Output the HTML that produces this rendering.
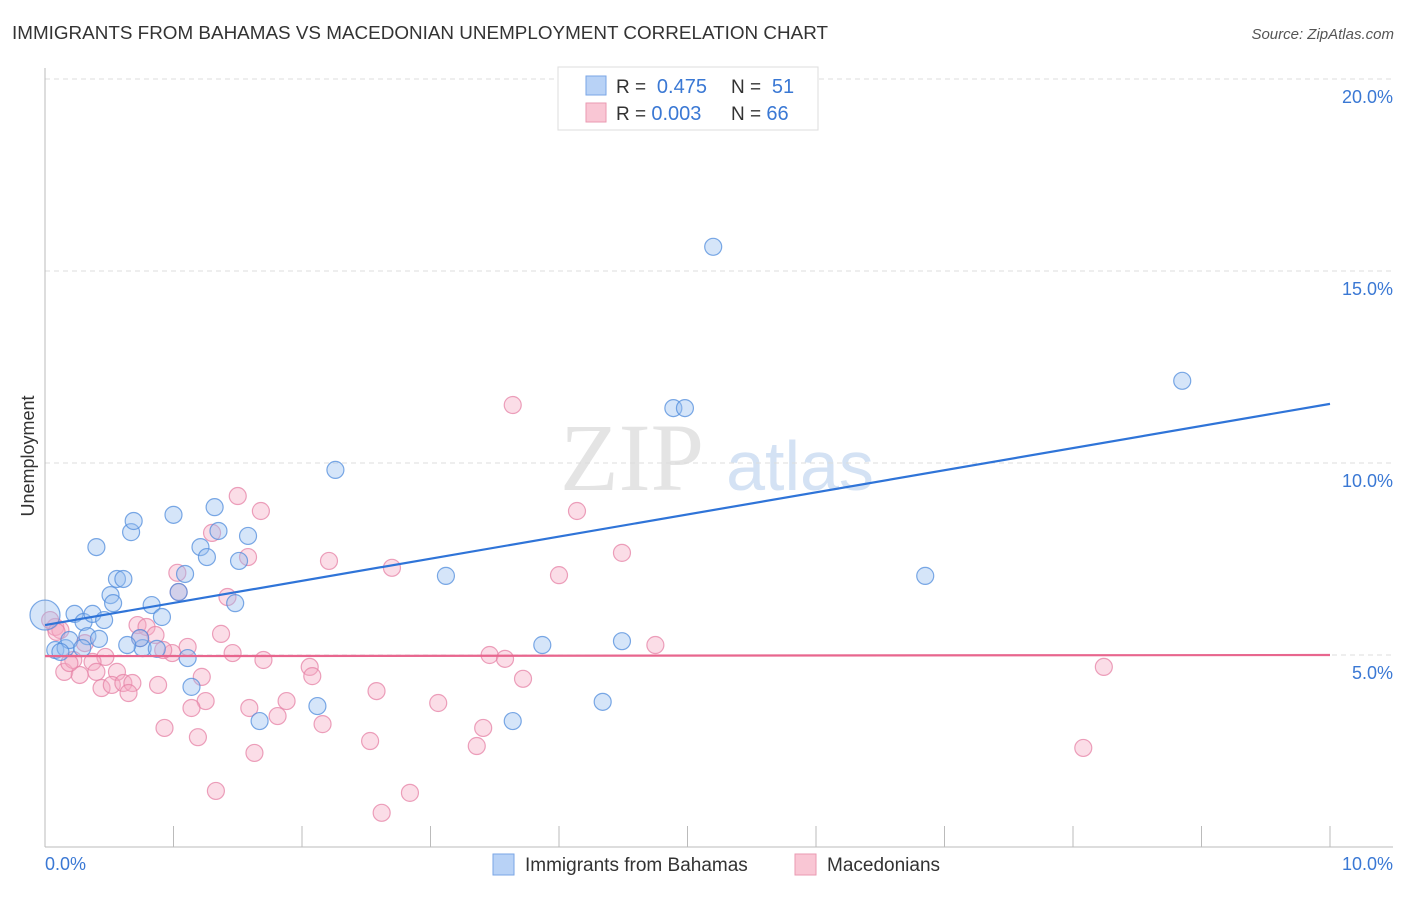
<!DOCTYPE html>
<html><head><meta charset="utf-8"><style>
body{margin:0;background:#fff;font-family:"Liberation Sans",sans-serif}
</style></head><body>
<svg width="1406" height="892" xmlns="http://www.w3.org/2000/svg" font-family="Liberation Sans, sans-serif">
<text x="12" y="39" font-size="18" fill="#333" textLength="816" lengthAdjust="spacingAndGlyphs">IMMIGRANTS FROM BAHAMAS VS MACEDONIAN UNEMPLOYMENT CORRELATION CHART</text>
<text x="1394" y="39" font-size="15" fill="#555" font-style="italic" text-anchor="end">Source: ZipAtlas.com</text>
<text x="632" y="490" font-size="96" fill="#e4e4e4" font-family="Liberation Serif, serif" text-anchor="middle">ZIP</text>
<text x="800" y="490" font-size="70" fill="#d4e2f4" text-anchor="middle">atlas</text>
<g id="grid"></g>
<g id="axes"></g>
<g id="pts"></g>
<g id="lines"></g>
<text transform="translate(34,456) rotate(-90)" font-size="18" fill="#333" text-anchor="middle">Unemployment</text>
<g>
<rect x="558" y="67" width="260" height="63" fill="#fff" stroke="#ddd"/>
<rect x="586" y="76" width="20" height="19" fill="#b8d2f6" stroke="#7aa6e6"/>
<rect x="586" y="103" width="20" height="19" fill="#f9c6d4" stroke="#ea9ab2"/>
<text x="616" y="93" font-size="19" fill="#333">R = <tspan fill="#3a78d4" font-size="20">&#160;0.475</tspan><tspan x="731">N = </tspan><tspan fill="#3a78d4" font-size="20">&#160;51</tspan></text>
<text x="616" y="120" font-size="19" fill="#333">R = <tspan fill="#3a78d4" font-size="20">0.003</tspan><tspan x="731">N = </tspan><tspan fill="#3a78d4" font-size="20">66</tspan></text>
</g>
<g>
<rect x="493" y="854" width="21" height="21" fill="#b8d2f6" stroke="#7aa6e6"/>
<text x="525" y="871" font-size="19" fill="#333">Immigrants from Bahamas</text>
<rect x="795" y="854" width="21" height="21" fill="#f9c6d4" stroke="#ea9ab2"/>
<text x="827" y="871" font-size="19" fill="#333">Macedonians</text>
</g>
</svg>
<script>
const xTicks=[0,1,2,3,4,5,6,7,8,9,10];
const yTicks=[5,10,15,20];
const yTickLabels=["5.0%","10.0%","15.0%","20.0%"];
const blueX=[0,.08,.16,.19,.23,.30,.33,.37,.40,.42,.46,.51,.53,.56,.61,.67,.69,.76,.74,.83,.87,.91,1.0,1.04,1.09,1.11,1.14,1.21,1.26,1.32,1.35,1.48,1.51,1.58,1.67,2.12,2.26,3.12,3.64,3.87,4.34,4.49,4.89,4.98,5.20,6.85,8.85,.64,.12,.29];
const blueY=[6.04,5.13,5.18,5.39,6.07,5.86,5.49,6.07,7.81,5.42,5.91,6.56,6.35,6.98,6.98,8.20,8.49,5.18,5.44,6.30,5.16,5.99,8.65,6.64,7.11,4.92,4.17,7.81,7.55,8.85,8.23,6.35,7.45,8.10,3.28,3.67,9.82,7.06,3.28,5.26,3.78,5.36,11.43,11.43,15.63,7.06,12.14,5.26,5.08,5.18];
const pinkX=[1.50,1.68,1.30,1.58,2.21,1.03,1.04,1.42,.72,.79,.86,.74,1.37,1.11,.99,1.46,1.70,2.06,2.08,.47,.37,.31,.15,.27,.40,.56,.44,.52,.61,.68,.65,.88,1.22,1.25,1.14,1.59,1.88,1.81,2.16,.93,1.19,1.63,1.33,.08,.04,.12,.22,.19,2.70,2.58,2.53,2.62,2.84,3.06,3.36,3.41,3.46,3.58,3.64,3.72,4.0,4.14,4.49,4.75,8.08,8.24,.92,.09];
const pinkY=[9.14,8.75,8.18,7.55,7.45,7.14,6.64,6.51,5.78,5.73,5.52,5.44,5.55,5.21,5.05,5.05,4.87,4.69,4.45,4.95,4.82,5.31,4.56,4.48,4.56,4.56,4.14,4.22,4.27,4.27,4.01,4.22,4.43,3.80,3.62,3.62,3.80,3.41,3.20,3.10,2.86,2.45,1.46,5.73,5.91,5.65,4.87,4.79,7.27,4.06,2.76,.89,1.41,3.75,2.63,3.10,5.0,4.90,11.51,4.38,7.08,8.75,7.66,5.26,2.58,4.69,5.13,5.60];
const blueTrend=[5.78,11.54];
const pinkTrend=[4.97,5.0];
const NS="http://www.w3.org/2000/svg";
const X=v=>45+v*128.5, Y=v=>847-v*38.4;
function mk(t,a,p){const e=document.createElementNS(NS,t);for(const k in a)e.setAttribute(k,a[k]);document.getElementById(p).appendChild(e);return e;}
yTicks.forEach((t,i)=>{
 const g=mk('line',{x1:45,x2:1393,y1:Y(t),y2:Y(t),stroke:'#ddd','stroke-dasharray':'5,4'},'grid');
 
 
 const l=mk('text',{x:1393,y:Y(t)+24,'font-size':18,fill:'#3a78d4','text-anchor':'end'},'grid');
 l.textContent=yTickLabels[i];
 
 
});
mk('line',{x1:45,x2:45,y1:68,y2:847,stroke:'#bbb'},'axes');
mk('line',{x1:45,x2:1393,y1:847,y2:847,stroke:'#bbb'},'axes');
xTicks.forEach(t=>{const e=mk('line',{x1:X(t),x2:X(t),y1:826,y2:847,stroke:'#bbb'},'axes');
 
 });
let a=mk('text',{x:45,y:870,'font-size':18,fill:'#3a78d4'},'axes');a.textContent='0.0%';


a=mk('text',{x:1393,y:870,'font-size':18,fill:'#3a78d4','text-anchor':'end'},'axes');a.textContent='10.0%';


pinkX.forEach((v,i)=>{const c=mk('circle',{cx:X(v),cy:Y(pinkY[i]),r:8.5,fill:'rgba(244,170,195,0.4)',stroke:'rgba(230,130,165,0.75)','stroke-width':1.2},'pts');
 
 });
blueX.forEach((v,i)=>{const c=mk('circle',{cx:X(v),cy:Y(blueY[i]),r:i==0?15:8.5,fill:'rgba(150,190,240,0.4)',stroke:'rgba(80,140,220,0.75)','stroke-width':1.2},'pts');
 
 });
let t1=mk('line',{x1:X(0),x2:X(10),y1:Y(pinkTrend[0]),y2:Y(pinkTrend[1]),stroke:'#e8668e','stroke-width':2.2},'lines');


let t2=mk('line',{x1:X(0),x2:X(10),y1:Y(blueTrend[0]),y2:Y(blueTrend[1]),stroke:'#2f74d8','stroke-width':2.2},'lines');


</script>
</body></html>
